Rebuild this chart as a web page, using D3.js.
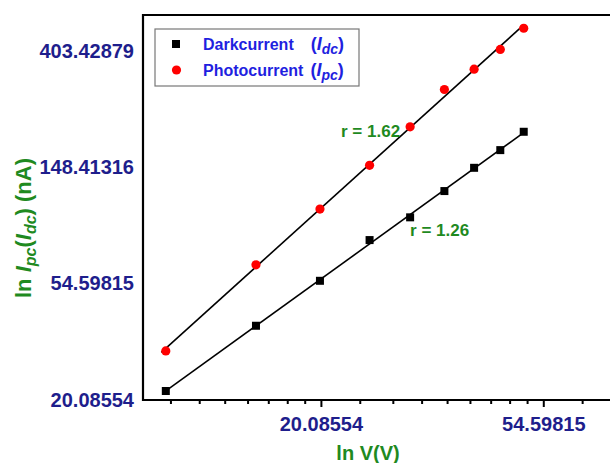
<!DOCTYPE html>
<html lang="en">
<head>
    <meta charset="UTF-8" />
    <title>ln I vs ln V</title>
    <script src="https://d3js.org/d3.v7.min.js"></script>
    <style>
        body { margin: 0; background: #fff; font-family: Arial, "Liberation Sans", sans-serif; }
    </style>
</head>
<body>
<div id="chart"></div>
<script>
    // data (V in volts, currents in nA)
    var voltage = [10, 15, 20, 25, 30, 35, 40, 45, 50];
    var darkCurrent = [21.7, 38.0, 55.9, 79.3, 96.4, 120.8, 147.5, 171.7, 201];
    var photoCurrent = [30.6, 64.1, 103.5, 150.7, 209.8, 289, 344, 407.6, 489];
    var xTickLabels = [Math.exp(3), Math.exp(4)];
    var yTickLabels = [Math.exp(3), Math.exp(4), Math.exp(5), Math.exp(6)];
    var slopeLabels = ["r = 1.62", "r = 1.26"];

    var w = 610, h = 463;
    var plotLeft = 143, plotTop = 15, plotBottom = 400;

    var svg = d3.select("#chart").append("svg")
        .attr("width", w)
        .attr("height", h);

    var x = d3.scaleLog().base(Math.E)
        .domain([Math.exp(2.2), Math.exp(4.3)])
        .range([plotLeft, w]);
    var y = d3.scaleLog().base(Math.E)
        .domain([Math.exp(3), Math.exp(6.306)])
        .range([plotBottom, plotTop]);

    // minor ticks: 8 linear steps inside every e-decade (Origin style)
    var minorTicks = [];
    for (var k = 1; k < 6; k++) {
        var a = Math.exp(k), b = Math.exp(k + 1);
        for (var j = 1; j < 9; j++) {
            var v = a + j * (b - a) / 9;
            if (v > x.domain()[0] && v < x.domain()[1]) minorTicks.push(v);
        }
    }

    var navy = "#1e1e8c";
    var green = "#1f8a1f";

    // x axis minor ticks
    svg.append("g")
        .attr("transform", "translate(0," + plotBottom + ")")
        .call(d3.axisBottom(x).tickValues(minorTicks).tickSize(4).tickFormat(""))
        .call(function(g) { g.select(".domain").remove(); })
        .selectAll("line").attr("stroke", "#000").attr("stroke-width", 2);

    // x axis major ticks
    var xAxis = svg.append("g")
        .attr("transform", "translate(0," + plotBottom + ")")
        .call(d3.axisBottom(x).tickValues(xTickLabels).tickSize(7).tickPadding(10)
            .tickFormat(function(d) { return d.toFixed(5); }));
    xAxis.select(".domain").remove();
    xAxis.selectAll("line").attr("stroke", "#000").attr("stroke-width", 2);
    xAxis.selectAll("text")
        .attr("fill", navy)
        .style("font-size", "20px")
        .style("font-weight", "bold");

    // y axis labels only
    var yAxis = svg.append("g")
        .attr("transform", "translate(" + plotLeft + ",0)")
        .call(d3.axisLeft(y).tickValues(yTickLabels).tickSize(0).tickPadding(9)
            .tickFormat(function(d) { return d.toFixed(5); }));
    yAxis.select(".domain").remove();
    yAxis.selectAll("text")
        .attr("fill", navy)
        .style("font-size", "20px")
        .style("font-weight", "bold");

    // frame (left, top, bottom)
    svg.append("path")
        .attr("d", "M" + w + "," + plotTop + "H" + plotLeft + "V" + plotBottom + "H" + w)
        .attr("fill", "none")
        .attr("stroke", "#000")
        .attr("stroke-width", 2.2);

    // linear fit in ln-ln space
    function fit(xs, ys) {
        var lx = xs.map(Math.log), ly = ys.map(Math.log);
        var mx = d3.mean(lx), my = d3.mean(ly);
        var num = d3.sum(lx, function(d, i) { return (d - mx) * (ly[i] - my); });
        var den = d3.sum(lx, function(d) { return (d - mx) * (d - mx); });
        var s = num / den;
        return function(v) { return Math.exp(my + s * (Math.log(v) - mx)); };
    }
    var fitDark = fit(voltage, darkCurrent);
    var fitPhoto = fit(voltage, photoCurrent);

    var line = function(f, v0, v1) {
        return d3.line()
            .x(function(d) { return x(d); })
            .y(function(d) { return y(f(d)); })([v0, v1]);
    };
    svg.append("path").attr("d", line(fitPhoto, 9.8, 50))
        .attr("stroke", "#000").attr("stroke-width", 1.6).attr("fill", "none");
    svg.append("path").attr("d", line(fitDark, 10, 50))
        .attr("stroke", "#000").attr("stroke-width", 1.6).attr("fill", "none");

    // markers
    svg.selectAll("circle.pc")
        .data(voltage)
        .enter().append("circle")
        .attr("class", "pc")
        .attr("cx", function(d) { return x(d); })
        .attr("cy", function(d, i) { return y(photoCurrent[i]); })
        .attr("r", 4.6)
        .attr("fill", "#ff0000");

    svg.selectAll("rect.dc")
        .data(voltage)
        .enter().append("rect")
        .attr("class", "dc")
        .attr("x", function(d) { return x(d) - 4; })
        .attr("y", function(d, i) { return y(darkCurrent[i]) - 4; })
        .attr("width", 8)
        .attr("height", 8)
        .attr("fill", "#000");

    // slope annotations next to the V = 30 points
    svg.append("text")
        .attr("x", x(voltage[4]) - 10)
        .attr("y", y(photoCurrent[4]) + 10)
        .attr("text-anchor", "end")
        .attr("fill", green)
        .style("font-size", "17px").style("font-weight", "bold")
        .text(slopeLabels[0]);
    svg.append("text")
        .attr("x", x(voltage[4]))
        .attr("y", y(darkCurrent[4]) + 19)
        .attr("fill", green)
        .style("font-size", "17px").style("font-weight", "bold")
        .text(slopeLabels[1]);

    // legend
    var legend = svg.append("g");
    legend.append("rect")
        .attr("x", 155).attr("y", 29)
        .attr("width", 204).attr("height", 57)
        .attr("fill", "#fff")
        .attr("stroke", "#777")
        .attr("stroke-width", 1.2);
    legend.append("rect")
        .attr("x", 172).attr("y", 40).attr("width", 8).attr("height", 8)
        .attr("fill", "#000");
    legend.append("circle")
        .attr("cx", 176.5).attr("cy", 70).attr("r", 4.6)
        .attr("fill", "#ff0000");

    var legendItems = [
        { name: "Darkcurrent", gap: 17, sub: "dc", y: 50 },
        { name: "Photocurrent", gap: 7, sub: "pc", y: 76 }
    ];
    legendItems.forEach(function(it) {
        var t = legend.append("text")
            .attr("x", 203).attr("y", it.y)
            .attr("fill", "#1f1fe0")
            .style("font-size", "16px").style("font-weight", "bold");
        t.append("tspan").text(it.name);
        t.append("tspan").attr("dx", it.gap).style("font-size", "18px").text("(");
        t.append("tspan").style("font-style", "italic").style("font-size", "18px").text("I");
        t.append("tspan").style("font-style", "italic").style("font-size", "14px")
            .attr("dy", 4).text(it.sub);
        t.append("tspan").attr("dy", -4).style("font-size", "18px").text(")");
    });

    // axis titles
    svg.append("text")
        .attr("x", 368).attr("y", 460)
        .attr("text-anchor", "middle")
        .attr("fill", green)
        .style("font-size", "20px").style("font-weight", "bold")
        .text("ln V(V)");

    var yt = svg.append("text")
        .attr("transform", "translate(31,228) rotate(-90)")
        .attr("text-anchor", "middle")
        .attr("fill", green)
        .style("font-size", "22px").style("font-weight", "bold");
    yt.append("tspan").text("ln ");
    yt.append("tspan").style("font-style", "italic").text("I");
    yt.append("tspan").style("font-style", "italic").style("font-size", "16px").attr("dy", 5).text("pc");
    yt.append("tspan").attr("dy", -5).text("(");
    yt.append("tspan").style("font-style", "italic").text("I");
    yt.append("tspan").style("font-style", "italic").style("font-size", "16px").attr("dy", 5).text("dc");
    yt.append("tspan").attr("dy", -5).text(") (nA)");
</script>
</body>
</html>
